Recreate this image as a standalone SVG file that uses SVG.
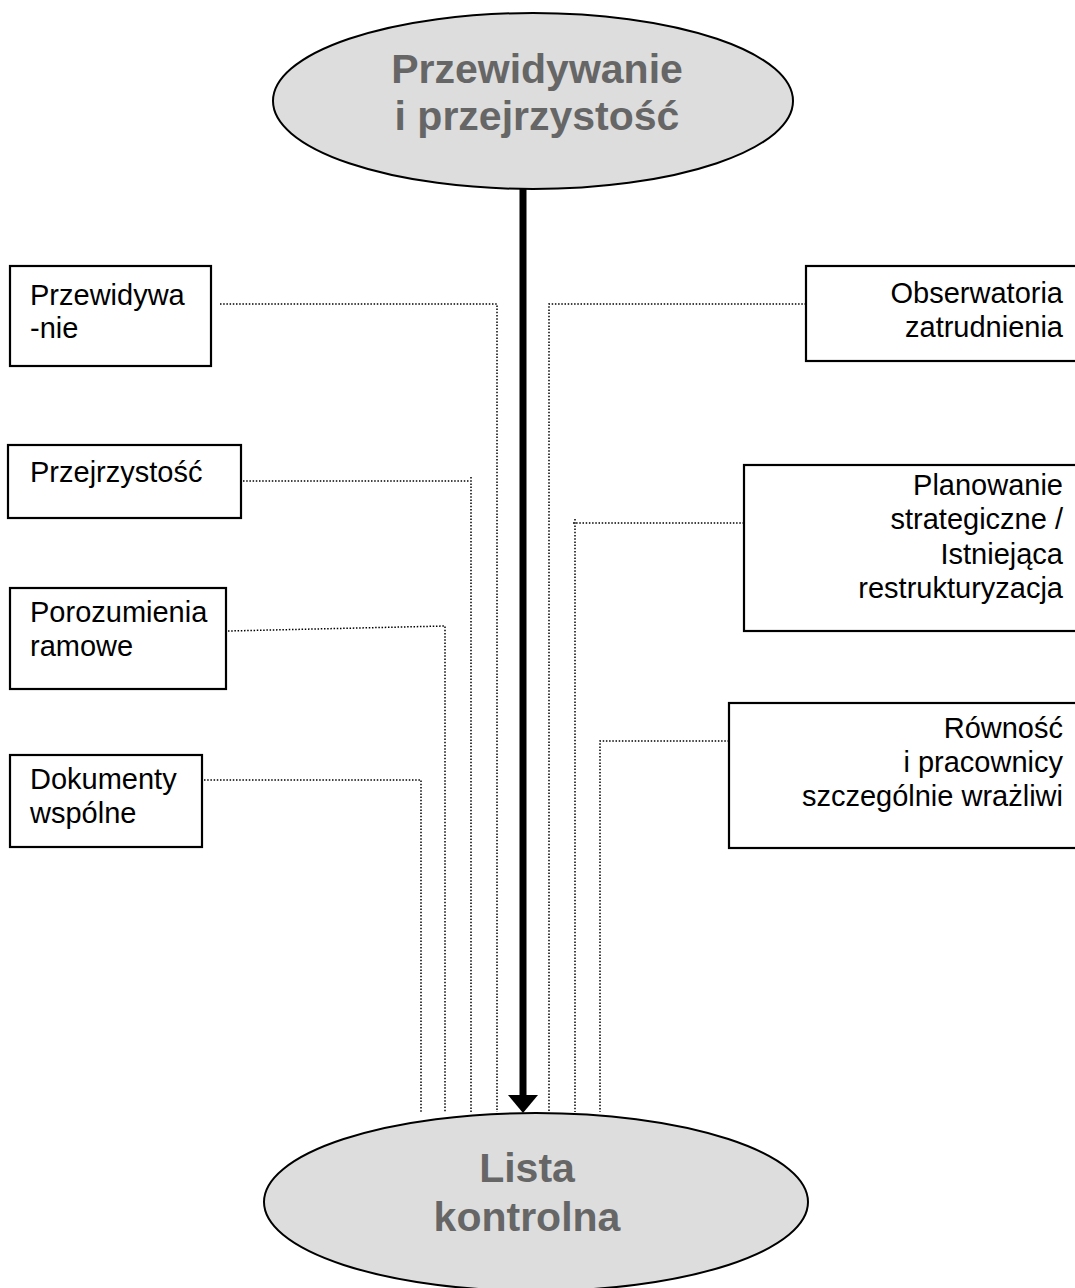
<svg xmlns="http://www.w3.org/2000/svg" width="1075" height="1288" viewBox="0 0 1075 1288">
<style>
.box{fill:#fff;stroke:#000;stroke-width:2.2}
.ell{fill:#dddddd;stroke:#000;stroke-width:2}
.t{font-family:"Liberation Sans",Arial,sans-serif;font-size:29px;fill:#000}
.r{text-anchor:end}
.big{font-family:"Liberation Sans",Arial,sans-serif;font-size:41px;font-weight:bold;fill:#666;text-anchor:middle}
.dot{fill:none;stroke:#000;stroke-width:1.5;stroke-dasharray:1.5 1.7}
</style>
<rect width="1075" height="1288" fill="#fff"/>
<g id="connectors">
<path class="dot" d="M220 304 H497 V1112"/>
<path class="dot" d="M243 481 H471 M471 477 V1112"/>
<path class="dot" d="M228 631 L445 626 V1112"/>
<path class="dot" d="M204 780 H421 V1112"/>
<path class="dot" d="M806 304 H549 V1112"/>
<path class="dot" d="M744 523 H573 M575 519 V1112"/>
<path class="dot" d="M729 741 H600 V1112"/>
<line x1="523" y1="188" x2="523" y2="1096" stroke="#000" stroke-width="7"/>
<polygon points="508,1095 538,1095 523,1113" fill="#000"/>
</g>
<g id="top">
<ellipse class="ell" cx="533" cy="101" rx="260" ry="88"/>
<text class="big" x="537" y="83">Przewidywanie</text>
<text class="big" x="537" y="130">i przejrzystość</text>
</g>
<g id="bottom">
<ellipse class="ell" cx="536" cy="1202" rx="272" ry="89"/>
<text class="big" x="527" y="1182">Lista</text>
<text class="big" x="527" y="1231">kontrolna</text>
</g>
<g id="n-przewidywanie">
<rect class="box" x="10" y="266" width="201" height="100"/>
<text class="t" x="30" y="305">Przewidywa</text>
<text class="t" x="30" y="338">-nie</text>
</g>
<g id="n-przejrzystosc">
<rect class="box" x="8" y="445" width="233" height="73"/>
<text class="t" x="30" y="482">Przejrzystość</text>
</g>
<g id="n-porozumienia">
<rect class="box" x="10" y="588" width="216" height="101"/>
<text class="t" x="30" y="622">Porozumienia</text>
<text class="t" x="30" y="656">ramowe</text>
</g>
<g id="n-dokumenty">
<rect class="box" x="10" y="755" width="192" height="92"/>
<text class="t" x="30" y="789">Dokumenty</text>
<text class="t" x="30" y="823">wspólne</text>
</g>
<g id="n-obserwatoria">
<rect class="box" x="806" y="266" width="280" height="95"/>
<text class="t r" x="1063" y="303">Obserwatoria</text>
<text class="t r" x="1063" y="337">zatrudnienia</text>
</g>
<g id="n-planowanie">
<rect class="box" x="744" y="465" width="340" height="166"/>
<text class="t r" x="1063" y="495">Planowanie</text>
<text class="t r" x="1063" y="529">strategiczne /</text>
<text class="t r" x="1063" y="564">Istniejąca</text>
<text class="t r" x="1063" y="598">restrukturyzacja</text>
</g>
<g id="n-rownosc">
<rect class="box" x="729" y="703" width="355" height="145"/>
<text class="t r" x="1063" y="738">Równość</text>
<text class="t r" x="1063" y="772">i pracownicy</text>
<text class="t r" x="1063" y="806">szczególnie wrażliwi</text>
</g>
</svg>
